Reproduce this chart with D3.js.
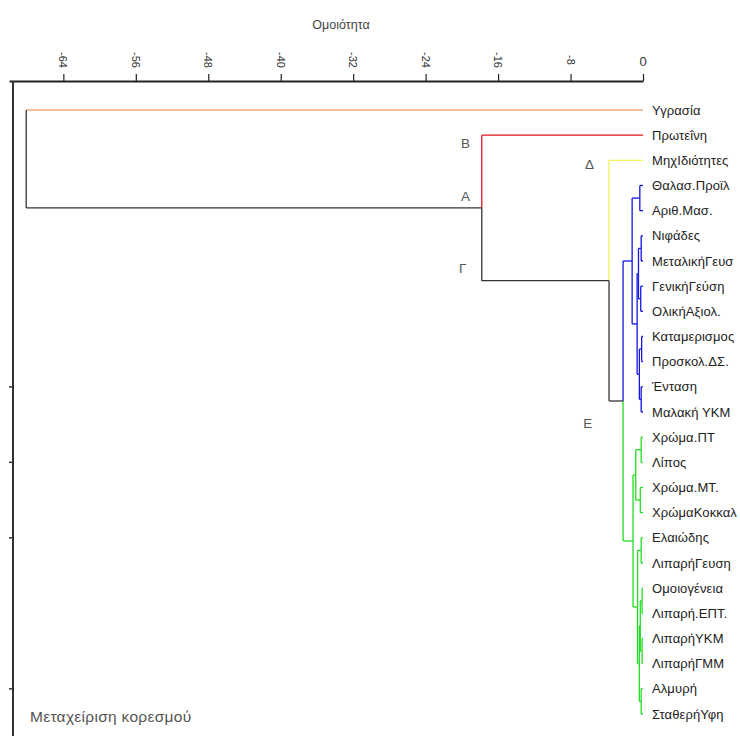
<!DOCTYPE html>
<html><head><meta charset="utf-8">
<script src="https://cdn.jsdelivr.net/npm/d3@7"></script>
<style>
body{margin:0;background:#fff}
text{font-family:"Liberation Sans",Arial,sans-serif}
</style>
</head><body>
<svg id="chart" width="740" height="736"></svg>
<script>
// ---------- DATA ----------
const leafLabels = ["Υγρασία","Πρωτεΐνη","ΜηχΙδιότητες","Θαλασ.Προϊλ","Αριθ.Μασ.","Νιφάδες",
  "ΜεταλικήΓευσ","ΓενικήΓεύση","ΟλικήΑξιολ.","Καταμερισμος","Προσκολ.ΔΣ.","Ένταση","Μαλακή ΥΚΜ",
  "Χρώμα.ΠΤ","Λίπος","Χρώμα.ΜΤ.","ΧρώμαΚοκκαλ","Ελαιώδης","ΛιπαρήΓευση","Ομοιογένεια",
  "Λιπαρή.ΕΠΤ.","ΛιπαρήΥΚΜ","ΛιπαρήΓΜΜ","Αλμυρή","ΣταθερήΥφη"];
// merges (linkage style): [child1, child2, similarity]; ids 0..24 leaves, 25.. merges in order
const merges = [
  [3,4,-0.35],   // 25
  [5,6,-0.2],    // 26
  [7,8,-0.25],   // 27
  [26,27,-0.5],  // 28
  [9,10,-0.15],  // 29
  [11,12,-0.2],  // 30
  [29,30,-0.4],  // 31
  [28,31,-0.65], // 32
  [25,32,-1.2],  // 33 blue cluster
  [13,14,-0.2],  // 34
  [15,16,-0.3],  // 35
  [34,35,-0.8],  // 36
  [17,18,-0.2],  // 37
  [19,20,-0.1],  // 38
  [21,22,-0.1],  // 39
  [38,39,-0.3],  // 40
  [23,24,-0.2],  // 41
  [40,41,-0.4],  // 42
  [37,42,-0.6],  // 43
  [36,43,-1.1],  // 44 green cluster
  [33,44,-2.2],  // 45 E
  [2,45,-3.75],  // 46 Γ
  [1,46,-17.8],  // 47 A
  [0,47,-68.1]   // 48 root
];
const clusterIds = [0, 1, 2, 33, 44];
const clusterColors = ["#f5a877", "#e3121b", "#f2f25a", "#1515e0", "#22dd22"];
const axisTicks = [-64,-56,-48,-40,-32,-24,-16,-8,0];
const sideTicks = [11, 14, 17, 23];
const nodeNotes = [
  {t:"B", s:-19.6, i:1.35},
  {t:"A", s:-19.6, i:3.45},
  {t:"Γ", s:-19.9, i:6.3},
  {t:"Δ", s:-5.9, i:2.15},
  {t:"Ε", s:-6.1, i:12.45}
];
const axisTitle = "Ομοιότητα";
const footNote = "Μεταχείριση κορεσμού";

// ---------- DRAW ----------
const svg = d3.select("#chart");
const x = d3.scaleLinear().domain([-70, 0]).range([9, 643]);
const y = d3.scaleLinear().domain([0, leafLabels.length - 1]).range([110, 714]);
const nLeaf = leafLabels.length;

// node positions
const pos = {};
leafLabels.forEach((l, i) => pos[i] = {x: x(0), y: y(i), h: 0});
merges.forEach((m, k) => {
  const id = nLeaf + k;
  pos[id] = {x: x(m[2]), y: (pos[m[0]].y + pos[m[1]].y) / 2, h: m[2]};
});
// colours
const colorOf = {};
function paint(id, c) {
  colorOf[id] = c;
  if (id >= nLeaf) { const m = merges[id - nLeaf]; paint(m[0], c); paint(m[1], c); }
}
for (let id = 0; id < nLeaf + merges.length; id++) colorOf[id] = "#333";
clusterIds.forEach((id, k) => paint(id, clusterColors[k]));
const rootId = nLeaf + merges.length - 1;

const gL = svg.append("g").attr("fill", "none").attr("stroke-width", 1.3);
merges.forEach((m, k) => {
  const id = nLeaf + k, p = pos[id];
  m.slice(0, 2).forEach(c => {
    const q = pos[c];
    gL.append("line").attr("x1", p.x).attr("x2", q.x).attr("y1", q.y).attr("y2", q.y)
      .attr("stroke", colorOf[c]);
    gL.append("line").attr("x1", p.x).attr("x2", p.x).attr("y1", p.y).attr("y2", q.y)
      .attr("stroke", id === rootId ? "#333" : colorOf[c]);
  });
});

// top axis
const ax = svg.append("g").attr("transform", "translate(0,81)")
  .call(d3.axisTop(x).tickValues(axisTicks).tickSize(7).tickSizeOuter(0).tickFormat(""));
ax.select(".domain").attr("stroke", "#222").attr("stroke-width", 2);
ax.selectAll(".tick line").attr("stroke", "#222").attr("stroke-width", 1.2);
axisTicks.forEach(v => {
  const t = svg.append("text").attr("fill", "#333")
    .attr("text-anchor", "middle").attr("dominant-baseline", "central").text(v);
  if (v === 0) t.attr("x", x(v)).attr("y", 61).attr("font-size", 13);
  else t.attr("font-size", 11).attr("transform", `translate(${x(v)},60) rotate(90)`);
});
svg.append("text").attr("x", 341).attr("y", 29).attr("text-anchor", "middle")
  .attr("font-size", 12.5).attr("fill", "#444").text(axisTitle);

// left spine + ticks
svg.append("line").attr("x1", 13).attr("x2", 13).attr("y1", 81).attr("y2", 736)
  .attr("stroke", "#333").attr("stroke-width", 2);
sideTicks.forEach(i => svg.append("line").attr("x1", 9).attr("x2", 13)
  .attr("y1", y(i)).attr("y2", y(i)).attr("stroke", "#333").attr("stroke-width", 1.5));

// leaf labels
svg.append("g").selectAll("text").data(leafLabels).join("text")
  .attr("x", 652).attr("y", (d, i) => y(i)).attr("dominant-baseline", "central")
  .attr("font-size", 13).attr("letter-spacing", 0.1).attr("fill", "#222").text(d => d);

// node notes
svg.append("g").selectAll("text").data(nodeNotes).join("text")
  .attr("x", d => x(d.s)).attr("y", d => y(d.i)).attr("text-anchor", "middle")
  .attr("dominant-baseline", "central").attr("font-size", 13.5).attr("fill", "#555")
  .text(d => d.t);

svg.append("text").attr("x", 30).attr("y", 722).attr("font-size", 15.5)
  .attr("letter-spacing", 0.3).attr("fill", "#555").text(footNote);
</script>
</body></html>
